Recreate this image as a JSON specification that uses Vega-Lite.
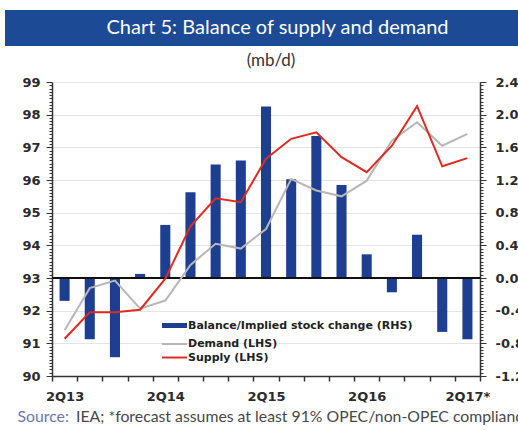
{
  "$schema": "https://vega.github.io/schema/vega-lite/v6.json",
  "padding": {"left": 5, "top": 10, "right": 0, "bottom": 0},
  "background": "#ffffff",
  "spacing": 6,
  "config": {"view": {"stroke": null}},
  "title": {"text": "IEA; *forecast assumes at least 91% OPEC/non-OPEC compliance", "orient": "bottom", "anchor": "start", "frame": "bounds", "dx": 71, "offset": -2, "baseline": "alphabetic", "font": "Lato", "fontSize": 15.8, "fontWeight": "normal", "color": "#484848"},
  "vconcat": [
    {
      "width": 513,
      "height": 36,
      "view": {"fill": "#1d4a94", "stroke": null},
      "data": {"values": [{"t": "Chart 5: Balance of supply and demand"}]},
      "mark": {"type": "text", "color": "#ffffff", "font": "Lato", "fontSize": 20, "dx": 16, "baseline": "middle"},
      "encoding": {"text": {"field": "t", "type": "nominal"}}
    },
    {
      "spacing": 0,
      "hconcat": [
        {"width": 1, "height": 1, "data": {"values": []}, "mark": "point"},
        {
          "width": 428,
          "height": 294,
          "title": {"text": "(mb/d)", "frame": "group", "anchor": "middle", "dx": 5, "font": "Lato", "fontSize": 17, "fontWeight": "normal", "color": "#333333", "offset": 6},
          "data": {"values": [
            {"q": "2Q13", "bal": -0.28, "Demand (LHS)": 91.40, "Supply (LHS)": 91.14},
            {"q": "3Q13", "bal": -0.75, "Demand (LHS)": 92.69, "Supply (LHS)": 91.95},
            {"q": "4Q13", "bal": -0.97, "Demand (LHS)": 92.92, "Supply (LHS)": 91.95},
            {"q": "1Q14", "bal": 0.05, "Demand (LHS)": 92.06, "Supply (LHS)": 92.03},
            {"q": "2Q14", "bal": 0.65, "Demand (LHS)": 92.31, "Supply (LHS)": 92.98},
            {"q": "3Q14", "bal": 1.05, "Demand (LHS)": 93.40, "Supply (LHS)": 94.58},
            {"q": "4Q14", "bal": 1.39, "Demand (LHS)": 94.05, "Supply (LHS)": 95.44},
            {"q": "1Q15", "bal": 1.44, "Demand (LHS)": 93.90, "Supply (LHS)": 95.32},
            {"q": "2Q15", "bal": 2.10, "Demand (LHS)": 94.50, "Supply (LHS)": 96.65},
            {"q": "3Q15", "bal": 1.21, "Demand (LHS)": 96.03, "Supply (LHS)": 97.26},
            {"q": "4Q15", "bal": 1.74, "Demand (LHS)": 95.68, "Supply (LHS)": 97.46},
            {"q": "1Q16", "bal": 1.14, "Demand (LHS)": 95.50, "Supply (LHS)": 96.70},
            {"q": "2Q16", "bal": 0.29, "Demand (LHS)": 95.98, "Supply (LHS)": 96.24},
            {"q": "3Q16", "bal": -0.175, "Demand (LHS)": 97.20, "Supply (LHS)": 97.05},
            {"q": "4Q16", "bal": 0.53, "Demand (LHS)": 97.77, "Supply (LHS)": 98.26},
            {"q": "1Q17", "bal": -0.66, "Demand (LHS)": 97.05, "Supply (LHS)": 96.42},
            {"q": "2Q17*", "bal": -0.75, "Demand (LHS)": 97.41, "Supply (LHS)": 96.67}
          ]},
          "layer": [
            {
              "mark": {"type": "bar", "width": {"band": 0.4}},
              "encoding": {
                "x": {
                  "field": "q", "type": "ordinal", "sort": null,
                  "scale": {"type": "band", "paddingInner": 0, "paddingOuter": 0},
                  "axis": {
                    "title": "Source:",
                    "titleX": -35, "titleY": 45, "titleAlign": "left", "titleBaseline": "alphabetic",
                    "titleFont": "Lato", "titleFontSize": 15.8, "titleFontWeight": "normal", "titleColor": "#6a78a8",
                    "labelExpr": "substring(datum.label, 0, 2) === '2Q' ? datum.label : ''",
                    "labelAngle": 0, "labelFont": "DejaVu Sans", "labelFontWeight": "bold", "labelFontSize": 13,
                    "labelColor": "#2b2b2b", "labelPadding": 9, "labelOverlap": false, "labelFlush": false,
                    "tickBand": "extent", "tickSize": 5, "tickColor": "#333333", "tickWidth": 1.5,
                    "domainColor": "#333333", "domainWidth": 1.5, "grid": false
                  }
                },
                "y": {
                  "field": "bal", "type": "quantitative",
                  "scale": {"domain": [-1.2, 2.4], "nice": false, "zero": false},
                  "axis": {
                    "orient": "right", "title": null,
                    "values": [-1.2, -1.16, -1.12, -1.08, -1.04, -1, -0.96, -0.92, -0.88, -0.84, -0.8, -0.76, -0.72, -0.68, -0.64, -0.6, -0.56, -0.52, -0.48, -0.44, -0.4, -0.36, -0.32, -0.28, -0.24, -0.2, -0.16, -0.12, -0.08, -0.04, 0, 0.04, 0.08, 0.12, 0.16, 0.2, 0.24, 0.28, 0.32, 0.36, 0.4, 0.44, 0.48, 0.52, 0.56, 0.6, 0.64, 0.68, 0.72, 0.76, 0.8, 0.84, 0.88, 0.92, 0.96, 1, 1.04, 1.08, 1.12, 1.16, 1.2, 1.24, 1.28, 1.32, 1.36, 1.4, 1.44, 1.48, 1.52, 1.56, 1.6, 1.64, 1.68, 1.72, 1.76, 1.8, 1.84, 1.88, 1.92, 1.96, 2, 2.04, 2.08, 2.12, 2.16, 2.2, 2.24, 2.28, 2.32, 2.36, 2.4],
                    "labelExpr": "abs(datum.value * 2.5 - round(datum.value * 2.5)) < 0.001 ? (datum.value < -0.001 ? '-' : '') + format(abs(datum.value), '.1f') : ''",
                    "tickSize": {"condition": {"test": "abs(datum.value * 2.5 - round(datum.value * 2.5)) < 0.001", "value": 6}, "value": 3},
                    "tickColor": "#333333", "tickWidth": 1,
                    "labelAlign": "left", "labelPadding": 9, "labelOverlap": false, "labelFlush": false,
                    "labelFont": "DejaVu Sans", "labelFontWeight": "bold", "labelFontSize": 13, "labelColor": "#2b2b2b",
                    "domainColor": "#333333", "domainWidth": 1.5, "grid": false
                  }
                },
                "color": {
                  "datum": "Balance/Implied stock change (RHS)", "type": "nominal",
                  "scale": {"domain": ["Balance/Implied stock change (RHS)", "Demand (LHS)", "Supply (LHS)"], "range": ["#1e3f91", "#b7b7b7", "#e02a22"]},
                  "legend": {
                    "orient": "none", "legendX": 164, "legendY": 310, "title": null, "padding": 0,
                    "symbolType": "M-2,0H2", "symbolSize": 156, "symbolStrokeWidth": 2,
                    "labelFont": "DejaVu Sans", "labelFontWeight": "bold", "labelFontSize": 11, "labelColor": "#222222",
                    "labelOffset": 8, "rowPadding": 1.5, "labelLimit": 400,
                    "encode": {"symbols": {"update": {
                      "stroke": {"scale": "color", "field": "value"},
                      "fill": {"value": "transparent"},
                      "strokeWidth": {"signal": "datum.value === 'Balance/Implied stock change (RHS)' ? 5 : 2"}
                    }}}
                  }
                }
              }
            },
            {
              "layer": [
                {
                  "mark": {"type": "rule", "color": "#111111", "strokeWidth": 1.5},
                  "encoding": {"y": {"datum": 93, "type": "quantitative"}}
                },
                {
                  "transform": [{"fold": ["Demand (LHS)", "Supply (LHS)"], "as": ["series", "value"]}],
                  "mark": {"type": "line", "strokeWidth": 2},
                  "encoding": {
                    "x": {"field": "q", "type": "ordinal", "sort": null, "scale": {"type": "band", "paddingInner": 0, "paddingOuter": 0}},
                    "y": {
                      "field": "value", "type": "quantitative",
                      "scale": {"domain": [90, 99], "nice": false, "zero": false},
                      "axis": {
                        "orient": "left", "title": null, "tickCount": 90, "minExtent": 46,
                        "labelExpr": "abs(datum.value - round(datum.value)) < 0.001 ? format(datum.value, 'd') : ''",
                        "tickSize": {"condition": {"test": "abs(datum.value - round(datum.value)) < 0.001", "value": 6}, "value": 3},
                        "tickColor": "#333333", "tickWidth": 1,
                        "labelPadding": 6, "labelOverlap": false, "labelFlush": false,
                        "labelFont": "DejaVu Sans", "labelFontWeight": "bold", "labelFontSize": 13, "labelColor": "#2b2b2b",
                        "domainColor": "#333333", "domainWidth": 1.5,
                        "grid": true, "gridColor": "#e4e4e4", "gridWidth": 1,
                        "gridOpacity": {"condition": {"test": "abs(datum.value - round(datum.value)) < 0.001", "value": 1}, "value": 0}
                      }
                    },
                    "color": {
                      "field": "series", "type": "nominal",
                      "legend": {
                        "orient": "none", "legendX": 164, "legendY": 310, "title": null, "padding": 0,
                        "symbolType": "M-2,0H2", "symbolSize": 156, "symbolStrokeWidth": 2,
                        "labelFont": "DejaVu Sans", "labelFontWeight": "bold", "labelFontSize": 11, "labelColor": "#222222",
                        "labelOffset": 8, "rowPadding": 1.5, "labelLimit": 400,
                        "encode": {"symbols": {"update": {
                          "stroke": {"scale": "color", "field": "value"},
                          "fill": {"value": "transparent"},
                          "strokeWidth": {"signal": "datum.value === 'Balance/Implied stock change (RHS)' ? 5 : 2"}
                        }}}
                      }
                    }
                  }
                }
              ]
            }
          ],
          "resolve": {"scale": {"y": "independent"}}
        }
      ]
    }
  ]
}
